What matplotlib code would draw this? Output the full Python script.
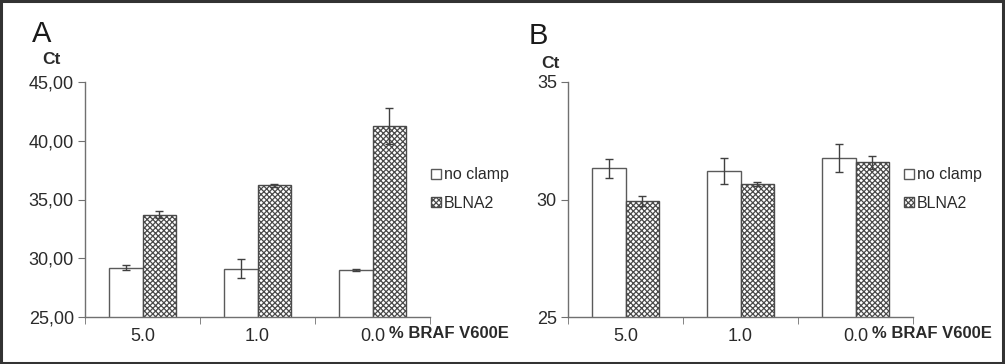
import matplotlib
matplotlib.use('Agg')
import matplotlib.pyplot as plt
from matplotlib.patches import Rectangle
import numpy as np

plt.rcParams['font.family'] = ['Liberation Sans', 'DejaVu Sans']
plt.rcParams['hatch.linewidth'] = 0.9
plt.rcParams['hatch.color'] = '#4a4a4a'

categories = ['5.0', '1.0', '0.0']
series = ['no clamp', 'BLNA2']

# panel A
a_noclamp = [29.2, 29.1, 29.0]
a_noclamp_err = [0.2, 0.8, 0.1]
a_blna2 = [33.7, 36.2, 41.25]
a_blna2_err = [0.3, 0.1, 1.5]
a_yticks = [25, 30, 35, 40, 45]
a_yticklabels = ['25,00', '30,00', '35,00', '40,00', '45,00']

# panel B
b_noclamp = [31.33, 31.2, 31.77]
b_noclamp_err = [0.4, 0.55, 0.6]
b_blna2 = [29.94, 30.67, 31.58]
b_blna2_err = [0.2, 0.08, 0.27]
b_yticks = [25, 30, 35]
b_yticklabels = ['25', '30', '35']

W, H = 1005, 364
fig = plt.figure(figsize=(W / 100, H / 100), dpi=100)
fig.patch.set_facecolor('white')

text_col = '#2a2a2a'
line_col = '#707070'
bar_w = 0.29
fs = 13


def panel(left_px, right_px, noclamp, nc_err, blna2, bl_err, yticks, ylabels, leg_x):
    ax = fig.add_axes([left_px / W, 1 - 317 / H, (right_px - left_px) / W, (317 - 82) / H])
    x = np.arange(len(categories))
    ekw = dict(ecolor='#404040', elinewidth=1.0, capsize=3, capthick=1.0)
    b1 = ax.bar(x - bar_w / 2, noclamp, bar_w, yerr=nc_err,
                color='white', edgecolor='#5a5a5a', linewidth=1.0, error_kw=ekw,
                label=series[0], zorder=2)
    b2 = ax.bar(x + bar_w / 2, blna2, bar_w, yerr=bl_err,
                color='white', edgecolor='#4a4a4a', linewidth=1.0, hatch='xxxxxx',
                error_kw=ekw, label=series[1], zorder=2)
    ax.set_xlim(-0.5, 2.5)
    ax.set_ylim(yticks[0], yticks[-1])
    ax.set_yticks(yticks)
    ax.set_yticklabels(ylabels, fontsize=fs, color=text_col)
    ax.set_xticks(x)
    ax.set_xticklabels(categories, fontsize=fs, color=text_col)
    ax.set_xticks([-0.5, 0.5, 1.5, 2.5], minor=True)
    ax.tick_params(axis='x', which='major', length=0, pad=8)
    ax.tick_params(axis='x', which='minor', length=5, direction='out', color=line_col)
    ax.tick_params(axis='y', length=5, direction='out', color=line_col, pad=3)
    for s in ['top', 'right']:
        ax.spines[s].set_visible(False)
    for s in ['left', 'bottom']:
        ax.spines[s].set_color(line_col)
        ax.spines[s].set_linewidth(1.0)
    ax.text(2 + 0.14, -9 / 235, '% BRAF V600E', transform=ax.get_xaxis_transform(),
            ha='left', va='top', fontsize=12, fontweight='bold', color=text_col)
    fig.legend(handles=[b1, b2], labels=series, loc='center left',
               bbox_to_anchor=(leg_x / W, 1 - 189 / H), frameon=False,
               fontsize=11.5, handlelength=0.6, handleheight=0.6,
               handletextpad=0.2, labelspacing=0.85, borderpad=0,
               borderaxespad=0, labelcolor=text_col)
    return ax


panel(85, 430, a_noclamp, a_noclamp_err, a_blna2, a_blna2_err,
      a_yticks, a_yticklabels, 431)
panel(568, 913, b_noclamp, b_noclamp_err, b_blna2, b_blna2_err,
      b_yticks, b_yticklabels, 904)

# panel letters and axis titles
fig.text(42 / W, 1 - 34 / H, 'A', fontsize=21, ha='center', va='center', color='#1a1a1a')
fig.text(51 / W, 1 - 60 / H, 'Ct', fontsize=12.5, fontweight='bold', ha='center', va='center', color=text_col)
fig.text(538 / W, 1 - 36 / H, 'B', fontsize=21, ha='center', va='center', color='#1a1a1a')
fig.text(550 / W, 1 - 63 / H, 'Ct', fontsize=12.5, fontweight='bold', ha='center', va='center', color=text_col)

# outer frame
fig.patches.append(Rectangle((0.001, 0.002), 0.997, 0.996, transform=fig.transFigure,
                             fill=False, edgecolor='#333333', linewidth=2.2))

fig.savefig('out.png', dpi=100, facecolor='white')
